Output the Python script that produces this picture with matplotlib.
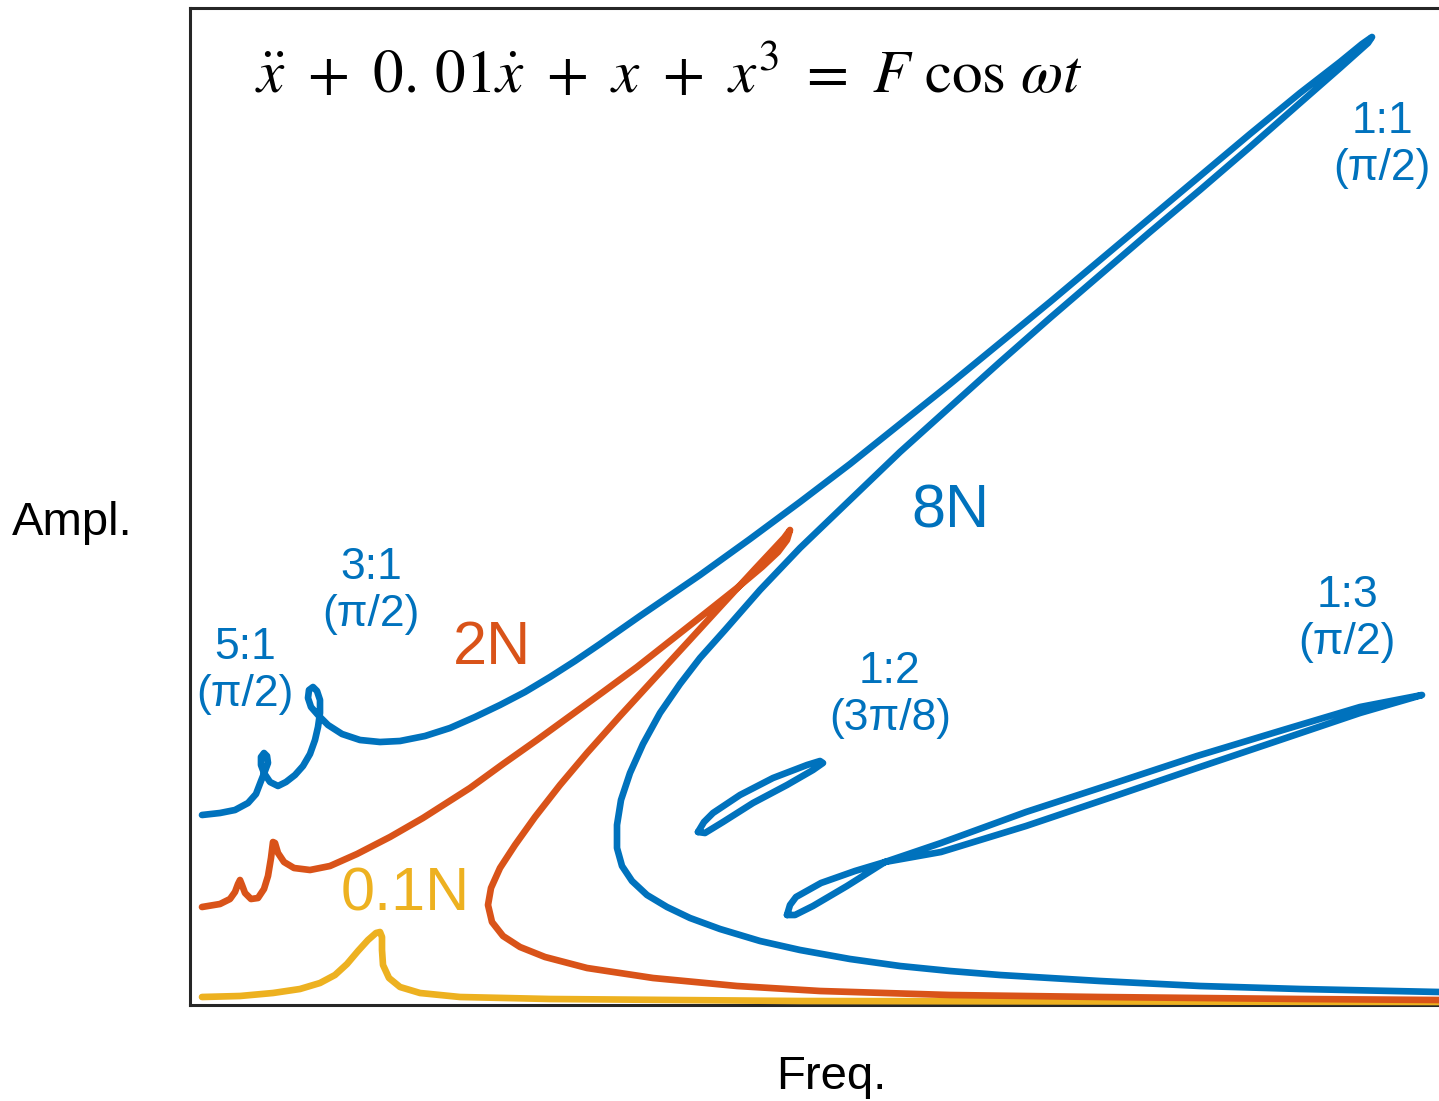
import matplotlib
matplotlib.use("Agg")
import matplotlib.pyplot as plt

plt.rcParams['font.family'] = ['Liberation Sans', 'DejaVu Sans']
plt.rcParams['mathtext.fontset'] = 'stix'

# colores tipo MATLAB
BLUE = '#0072BD'
ORANGE = '#D95319'
YELLOW = '#EDB120'

# ---------------------------------------------------------------
# Curvas de respuesta en frecuencia
# ---------------------------------------------------------------
# F = 8N, rama principal con resonancias 5:1, 3:1 y 1:1
freq_8n = [0.12, 0.30, 0.45, 0.58, 0.66, 0.71, 0.75, 0.78, 0.77, 0.74,
           0.71, 0.71, 0.74, 0.80, 0.88, 0.96, 1.05, 1.13, 1.20, 1.25,
           1.28, 1.30, 1.30, 1.27, 1.23, 1.19, 1.18, 1.21, 1.28, 1.38,
           1.52, 1.70, 1.90, 2.10, 2.35, 2.60, 2.85, 3.10, 3.35, 3.60,
           3.85, 4.10, 4.50, 5.10, 5.60, 6.10, 6.60, 7.10, 7.60, 8.10,
           8.60, 9.10, 9.60, 10.10, 10.60, 11.10, 11.50, 11.72, 11.82, 11.78,
           11.50, 11.10, 10.60, 10.10, 9.60, 9.10, 8.60, 8.10, 7.60, 7.10,
           6.60, 6.10, 5.70, 5.35, 5.10, 4.90, 4.70, 4.53, 4.40, 4.31,
           4.27, 4.27, 4.32, 4.42, 4.57, 4.77, 5.00, 5.30, 5.70, 6.10,
           6.60, 7.10, 7.60, 8.10, 9.10, 10.10, 11.10, 12.49]
ampl_8n = [1.90, 1.92, 1.95, 2.02, 2.11, 2.24, 2.34, 2.42, 2.49, 2.52,
           2.48, 2.40, 2.32, 2.23, 2.19, 2.23, 2.30, 2.39, 2.51, 2.65,
           2.78, 2.92, 3.05, 3.14, 3.18, 3.15, 3.07, 2.98, 2.90, 2.80,
           2.71, 2.65, 2.63, 2.64, 2.69, 2.77, 2.88, 3.00, 3.13, 3.28,
           3.44, 3.61, 3.89, 4.30, 4.66, 5.03, 5.41, 5.81, 6.21, 6.62,
           7.03, 7.45, 7.87, 8.29, 8.71, 9.12, 9.43, 9.61, 9.68, 9.62,
           9.37, 9.02, 8.58, 8.15, 7.73, 7.30, 6.87, 6.43, 5.98, 5.53,
           5.05, 4.57, 4.15, 3.75, 3.47, 3.21, 2.92, 2.61, 2.32, 2.05,
           1.80, 1.57, 1.39, 1.24, 1.10, 0.98, 0.87, 0.76, 0.64, 0.55,
           0.46, 0.39, 0.34, 0.30, 0.24, 0.19, 0.16, 0.13]

# F = 8N, isla 1:2
freq_12 = [5.08, 5.14, 5.23, 5.50, 5.83, 6.17, 6.30, 6.33, 6.23, 5.97,
           5.63, 5.33, 5.15, 5.08]
ampl_12 = [1.73, 1.83, 1.92, 2.10, 2.27, 2.40, 2.44, 2.42, 2.35, 2.20,
           2.02, 1.83, 1.72, 1.73]

# F = 8N, isla 1:3
freq_13 = [5.97, 6.00, 6.06, 6.31, 6.65, 6.95, 7.51, 8.36, 9.22, 10.07,
           10.93, 11.70, 12.32, 11.70, 10.93, 10.07, 9.22, 8.36, 7.51, 6.95,
           6.57, 6.23, 6.05, 5.97]
ampl_13 = [0.90, 1.00, 1.08, 1.22, 1.34, 1.43, 1.53, 1.79, 2.08, 2.37,
           2.66, 2.92, 3.10, 2.98, 2.75, 2.49, 2.21, 1.93, 1.62, 1.43,
           1.19, 0.99, 0.90, 0.90]

# F = 2N
freq_2n = [0.12, 0.30, 0.40, 0.45, 0.48, 0.50, 0.52, 0.55, 0.61, 0.68,
           0.74, 0.78, 0.81, 0.83, 0.85, 0.88, 0.94, 1.04, 1.20, 1.40,
           1.67, 2.00, 2.33, 2.80, 3.13, 3.47, 3.80, 4.13, 4.47, 4.80,
           5.13, 5.47, 5.72, 5.88, 5.97, 6.00, 5.94, 5.80, 5.65, 5.30,
           4.97, 4.63, 4.30, 3.97, 3.70, 3.45, 3.25, 3.10, 3.01, 2.98,
           3.02, 3.13, 3.30, 3.55, 3.97, 4.63, 5.47, 6.30, 7.60, 9.10,
           11.10, 12.49]
ampl_2n = [0.98, 1.01, 1.06, 1.13, 1.21, 1.25, 1.20, 1.12, 1.06, 1.07,
           1.16, 1.29, 1.47, 1.63, 1.62, 1.52, 1.43, 1.37, 1.35, 1.39,
           1.51, 1.68, 1.87, 2.17, 2.41, 2.65, 2.89, 3.13, 3.38, 3.64,
           3.90, 4.17, 4.38, 4.53, 4.65, 4.75, 4.67, 4.52, 4.36, 3.98,
           3.62, 3.25, 2.89, 2.52, 2.20, 1.88, 1.60, 1.37, 1.17, 1.00,
           0.83, 0.69, 0.58, 0.48, 0.37, 0.27, 0.19, 0.14, 0.10, 0.08,
           0.06, 0.05]

# F = 0.1N
freq_01n = [0.12, 0.50, 0.83, 1.10, 1.30, 1.45, 1.57, 1.68, 1.78, 1.86,
            1.90, 1.92, 1.92, 1.93, 1.99, 2.10, 2.30, 2.70, 3.60, 6.10,
            12.49]
ampl_01n = [0.08, 0.09, 0.12, 0.16, 0.22, 0.30, 0.41, 0.54, 0.65, 0.72,
            0.73, 0.68, 0.55, 0.40, 0.27, 0.18, 0.12, 0.08, 0.06, 0.04,
            0.03]

# etiquetas de resonancia (texto, freq, ampl)
res_labels = ["5:1\n(\u03c0/2)", "3:1\n(\u03c0/2)", "1:2\n(3\u03c0/8)",
              "1:3\n(\u03c0/2)", "1:1\n(\u03c0/2)"]
res_freq = [0.55, 1.81, 7.00, 11.57, 11.92]
res_ampl = [3.34, 4.14, 3.10, 3.86, 8.60]


def main():
    fig = plt.figure(figsize=(14.39, 11.01), dpi=100)
    ax = fig.add_axes([190 / 1439, 96 / 1101, 1 - 190 / 1439, 997 / 1101])

    lw = 4.8
    kw = dict(lw=lw, solid_capstyle='round', solid_joinstyle='round',
              zorder=3, clip_on=False)
    ax.plot(freq_01n, ampl_01n, color=YELLOW, **kw)
    ax.plot(freq_2n, ampl_2n, color=ORANGE, **kw)
    ax.plot(freq_8n, ampl_8n, color=BLUE, **kw)
    ax.plot(freq_12, ampl_12, color=BLUE, **kw)
    ax.plot(freq_13, ampl_13, color=BLUE, **kw)

    ax.set_xlim(0, 12.49)
    ax.set_ylim(0, 9.97)
    ax.set_xticks([])
    ax.set_yticks([])
    ax.spines['right'].set_visible(False)
    for s in ['left', 'top', 'bottom']:
        ax.spines[s].set_linewidth(2.2)
        ax.spines[s].set_color('#262626')

    # etiquetas de fuerza
    ax.text(7.60, 4.93, "8N", color=BLUE, fontsize=44, ha='center', va='center')
    ax.text(3.02, 3.57, "2N", color=ORANGE, fontsize=44, ha='center', va='center')
    ax.text(2.15, 1.10, "0.1N", color=YELLOW, fontsize=44, ha='center', va='center')

    for lab, fx, ay in zip(res_labels, res_freq, res_ampl):
        ax.text(fx, ay, lab, color=BLUE, fontsize=32, ha='center', va='center',
                multialignment='center', linespacing=1.2)

    # ecuacion
    ax.text(0.65, 9.28,
            r"$\ddot{x}\ +\ 0.\,01\dot{x}\ +\ x\ +\ x^3\ =\ F\ \cos\,\omega t$",
            fontsize=44, ha='left', va='center', color='black')

    fig.text(72 / 1439, 1 - 523 / 1101, "Ampl.", fontsize=34, ha='center', va='center')
    fig.text(831 / 1439, 1 - 1077 / 1101, "Freq.", fontsize=34, ha='center', va='center')

    fig.savefig("out.png", dpi=100)
    plt.close(fig)


if __name__ == "__main__":
    main()
